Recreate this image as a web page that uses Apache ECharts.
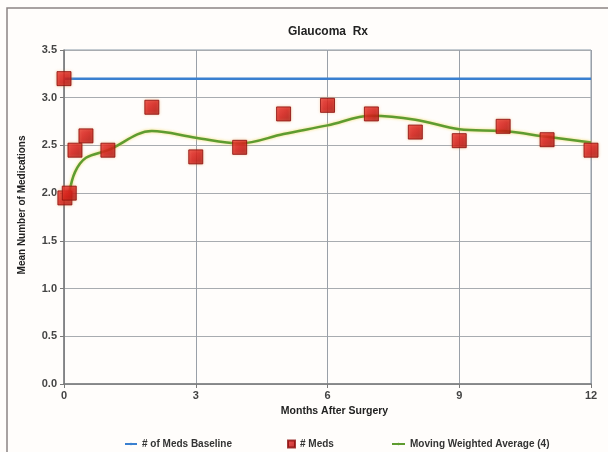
<!DOCTYPE html>
<html>
<head>
<meta charset="utf-8">
<script src="https://cdn.jsdelivr.net/npm/echarts@6/dist/echarts.min.js"></script>
<style>
  html, body { margin: 0; padding: 0; background: #fffdfb; }
  #chart { width: 608px; height: 452px; }
</style>
</head>
<body>
<div id="chart"></div>
<script>
// Months after surgery and mean medication counts
const monthsMeds = [0, 0.02, 0.12, 0.25, 0.5, 1, 2, 3, 4, 5, 6, 7, 8, 9, 10, 11, 12];
const meanMeds   = [3.2, 1.95, 2.0, 2.45, 2.6, 2.45, 2.9, 2.38, 2.48, 2.83, 2.92, 2.83, 2.64, 2.55, 2.7, 2.56, 2.45];

// Baseline level
const baselineMonths = [0, 12];
const baselineValue = 3.2;

// Moving weighted average (4)
const avgMonths = [0.12, 0.25, 0.5, 1, 2, 3, 4, 5, 6, 7, 8, 9, 10, 11, 12];
const avgValues = [2.0, 2.22, 2.37, 2.45, 2.65, 2.58, 2.52, 2.62, 2.71, 2.81, 2.77, 2.67, 2.65, 2.59, 2.53];

const yTicks = [0, 0.5, 1.0, 1.5, 2.0, 2.5, 3.0, 3.5];
const xTicks = [0, 3, 6, 9, 12];

const zip = (xs, ys) => xs.map((x, i) => [x, ys[i]]);

const chart = echarts.init(document.getElementById('chart'));
const font = 'Liberation Sans, Arial, sans-serif';
const legendText = { fontFamily: font, fontSize: 10, fontWeight: 'bold', color: '#333' };

chart.setOption({
  backgroundColor: '#fffdfb',
  animation: false,
  title: {
    text: 'Glaucoma  Rx',
    left: 323, top: 21, textAlign: 'center',
    textStyle: { fontFamily: font, fontSize: 12, fontWeight: 'bold', color: '#222' }
  },
  graphic: [{
    type: 'rect',
    shape: { x: 7, y: 8, width: 640, height: 480 },
    style: { fill: 'none', stroke: '#8c8484', lineWidth: 1.5 },
    silent: true
  }],
  grid: { left: 64, right: 17, top: 50, bottom: 68, show: true, borderColor: '#8a9aa8', borderWidth: 1 },
  legend: [
    { data: ['# of Meds Baseline'], left: 119, top: 434, itemWidth: 12, itemHeight: 3, textStyle: legendText },
    { data: ['# Meds'], left: 282, top: 434, itemWidth: 7, itemHeight: 7, textStyle: legendText },
    { data: ['Moving Weighted Average (4)'], left: 386, top: 434, itemWidth: 13, itemHeight: 3, textStyle: legendText }
  ],
  xAxis: {
    type: 'value', min: 0, max: 12, interval: 3,
    name: 'Months After Surgery', nameLocation: 'middle', nameGap: 21,
    nameTextStyle: { fontFamily: font, fontSize: 10.5, fontWeight: 'bold', color: '#222', padding: [0, 0, 0, 14] },
    axisLine: { lineStyle: { color: '#7a7a7a', width: 1.5 } },
    axisTick: { show: true, length: 4, lineStyle: { color: '#7a7a7a' } },
    axisLabel: { fontFamily: font, fontSize: 11, fontWeight: 'bold', color: '#444', margin: 6,
      formatter: v => xTicks.includes(v) ? String(v) : '' },
    splitLine: { show: true, lineStyle: { color: '#9aa0a8', width: 1 } }
  },
  yAxis: {
    type: 'value', min: 0, max: 3.5, interval: 0.5,
    name: 'Mean Number of Medications', nameLocation: 'middle', nameGap: 37,
    nameTextStyle: { fontFamily: font, fontSize: 10, fontWeight: 'bold', color: '#222', padding: [0, 0, 0, 24] },
    axisLine: { show: true, lineStyle: { color: '#7a7a7a', width: 1.5 } },
    axisTick: { show: true, length: 4, lineStyle: { color: '#7a7a7a' } },
    axisLabel: { fontFamily: font, fontSize: 11, fontWeight: 'bold', color: '#444', margin: 7,
      formatter: v => yTicks.includes(v) ? v.toFixed(1) : '' },
    splitLine: { show: true, lineStyle: { color: '#a8acb0', width: 1 } }
  },
  series: [
    {
      name: '# of Meds Baseline', type: 'line',
      data: baselineMonths.map(m => [m, baselineValue]),
      symbol: 'none', z: 2,
      itemStyle: { color: '#3a80d0' },
      lineStyle: { color: '#3a80d0', width: 2.5 }
    },
    {
      name: 'Moving Weighted Average (4)', type: 'line',
      data: zip(avgMonths, avgValues),
      symbol: 'none', smooth: 0.35, z: 3,
      itemStyle: { color: '#5e9c30' },
      lineStyle: { color: '#5e9c30', width: 2.5, shadowColor: 'rgba(240,215,90,0.9)', shadowBlur: 3 }
    },
    {
      name: '# Meds', type: 'scatter',
      data: zip(monthsMeds, meanMeds),
      symbol: 'rect', symbolSize: 14, z: 4,
      itemStyle: {
        color: new echarts.graphic.LinearGradient(0, 0, 1, 1, [
          { offset: 0, color: '#ee3030' },
          { offset: 0.5, color: '#d01414' },
          { offset: 1, color: '#a00808' }
        ]),
        borderColor: '#8a0a0a', borderWidth: 1,
        shadowColor: 'rgba(230,150,80,0.6)', shadowBlur: 3
      }
    }
  ]
});
</script>
</body>
</html>
